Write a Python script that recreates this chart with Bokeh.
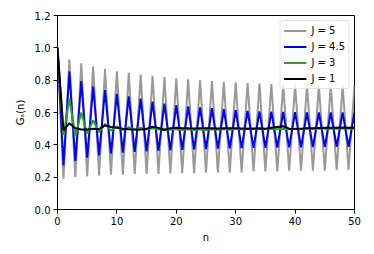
from bokeh.plotting import figure
from bokeh.models import Range1d, FixedTicker, Legend, LegendItem, CustomJSTickFormatter
from bokeh.embed import file_html
from bokeh.resources import INLINE

n = list(range(51))

g_j5 = [1.0, 0.19, 0.928, 0.20, 0.905, 0.205, 0.885, 0.21, 0.868, 0.215,
        0.855, 0.215, 0.845, 0.22, 0.835, 0.22, 0.827, 0.22, 0.819, 0.225,
        0.812, 0.225, 0.805, 0.225, 0.799, 0.23, 0.794, 0.23, 0.790, 0.23,
        0.786, 0.23, 0.782, 0.235, 0.779, 0.235, 0.776, 0.235, 0.774, 0.24,
        0.772, 0.24, 0.770, 0.24, 0.768, 0.24, 0.766, 0.245, 0.764, 0.245,
        0.762]

g_j45 = [1.0, 0.272, 0.853, 0.30, 0.795, 0.32, 0.76, 0.335, 0.738, 0.345,
         0.716, 0.352, 0.70, 0.357, 0.686, 0.36, 0.668, 0.363, 0.655, 0.366,
         0.645, 0.369, 0.638, 0.372, 0.632, 0.374, 0.627, 0.376, 0.62, 0.378,
         0.614, 0.38, 0.61, 0.381, 0.607, 0.382, 0.605, 0.383, 0.603, 0.384,
         0.602, 0.385, 0.60, 0.386, 0.60, 0.387, 0.60, 0.388, 0.60, 0.388,
         0.60]

g_j3 = [1.0, 0.46, 0.685, 0.455, 0.60, 0.47, 0.552, 0.478, 0.53, 0.488,
        0.515, 0.492, 0.51, 0.494, 0.506, 0.495, 0.503, 0.494, 0.5, 0.493,
        0.498, 0.492, 0.497, 0.491, 0.496, 0.492, 0.497, 0.493, 0.498, 0.494,
        0.499, 0.495, 0.5, 0.496, 0.5, 0.496, 0.5, 0.497, 0.5, 0.497,
        0.5, 0.498, 0.501, 0.498, 0.501, 0.499, 0.501, 0.5, 0.502, 0.5,
        0.501]

g_j1 = [1.0, 0.49, 0.534, 0.503, 0.495, 0.495, 0.5, 0.497, 0.52, 0.51,
        0.505, 0.5, 0.496, 0.495, 0.494, 0.5, 0.512, 0.505, 0.49, 0.503,
        0.505, 0.503, 0.502, 0.501, 0.502, 0.503, 0.502, 0.501, 0.502, 0.503,
        0.502, 0.501, 0.5, 0.501, 0.502, 0.5, 0.505, 0.51, 0.515, 0.5,
        0.498, 0.5, 0.502, 0.503, 0.504, 0.505, 0.505, 0.506, 0.507, 0.506,
        0.506]

labels = ["J = 5", "J = 4.5", "J = 3", "J = 1"]
colors = ["#999999", "#0000ff", "#2ca02c", "#000000"]
series = [g_j5, g_j45, g_j3, g_j1]

x_ticks = [0, 10, 20, 30, 40, 50]
y_ticks = [0.0, 0.2, 0.4, 0.6, 0.8, 1.0, 1.2]

p = figure(width=370, height=250, output_backend="svg", toolbar_location=None,
           x_range=Range1d(0, 50), y_range=Range1d(0, 1.2),
           min_border_left=57, min_border_right=16, min_border_top=15,
           min_border_bottom=41)
p.background_fill_color = "white"
p.border_fill_color = "white"
p.outline_line_color = "black"
p.outline_line_width = 1
p.grid.visible = False

FONT = "DejaVu Sans"
for ax in (p.xaxis[0], p.yaxis[0]):
    ax.major_tick_out = 4
    ax.major_tick_in = 0
    ax.minor_tick_out = 0
    ax.minor_tick_in = 0
    ax.axis_line_color = "black"
    ax.major_tick_line_color = "black"
    ax.major_label_text_font = FONT
    ax.major_label_text_font_size = "10px"
    ax.major_label_text_color = "black"
    ax.axis_label_text_font = FONT
    ax.axis_label_text_font_size = "10px"
    ax.axis_label_text_font_style = "normal"
    ax.axis_label_text_color = "black"
    ax.major_label_standoff = 3

p.xaxis[0].ticker = FixedTicker(ticks=x_ticks)
p.yaxis[0].ticker = FixedTicker(ticks=y_ticks)
p.yaxis[0].formatter = CustomJSTickFormatter(code="return tick.toFixed(1);")
p.xaxis[0].axis_label = "n"
p.yaxis[0].axis_label = "Gₛ(n)"
p.xaxis[0].axis_label_standoff = 4
p.yaxis[0].axis_label_standoff = 6

items = []
for lab, col, ys in zip(labels, colors, series):
    r = p.line(n, ys, line_color=col, line_width=2)
    items.append(LegendItem(label=lab, renderers=[r]))

legend = Legend(items=items, location="top_right")
legend.label_text_font = FONT
legend.label_text_font_size = "10px"
legend.label_text_color = "black"
legend.label_height = 13
legend.glyph_height = 13
legend.glyph_width = 23
legend.label_standoff = 5
legend.spacing = 3
legend.padding = 3
legend.margin = 5
legend.border_line_color = "#cccccc"
legend.border_line_width = 1
legend.border_radius = 3
legend.background_fill_alpha = 0.8
p.add_layout(legend)

open("out.html", "w").write(file_html(p, INLINE))
